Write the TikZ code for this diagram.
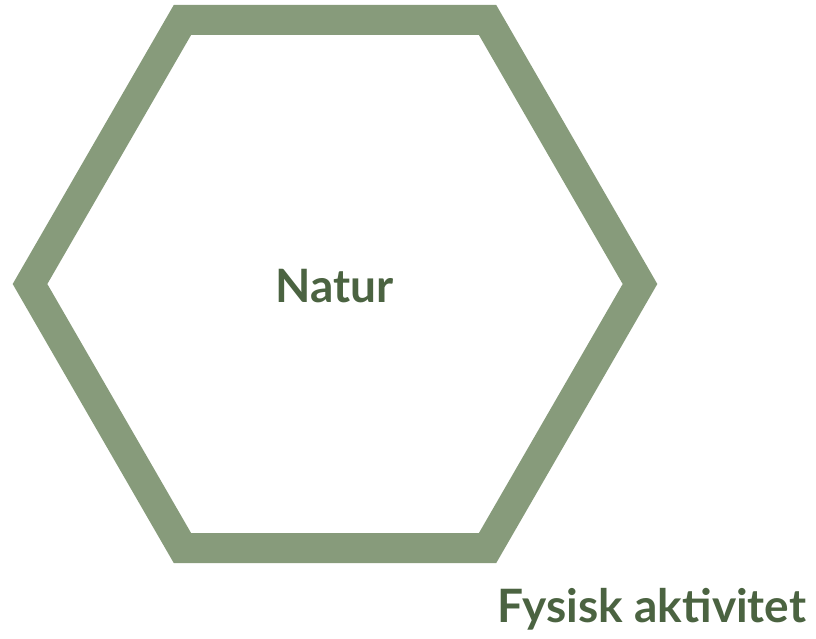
\documentclass[tikz,border=0pt]{standalone}
\usepackage{fontspec}
\setmainfont{Lato}
\usetikzlibrary{positioning,shapes.geometric}
\definecolor{hexgreen}{HTML}{879B7B}
\definecolor{textgreen}{HTML}{4B6341}

\begin{document}
\begin{tikzpicture}[x=1pt, y=-1pt,
    hexa/.style={regular polygon, regular polygon sides=6, minimum size=610pt, draw=hexgreen, line width=30pt, miter limit=4, inner sep=0pt},
    label/.style={font=\fontsize{46}{55}\selectfont\bfseries, text=textgreen, inner sep=0pt, anchor=base west}
]

    % Rahmen
    \useasboundingbox (0,0) rectangle (816,638);

    % Sechseck
    \node[hexa] (hex) at (335,284) {};

    % Beschriftungen
    \node[label] (natur) at (275,302) {Natur};
    \node[label] (fysisk) at (497,622) {Fysisk aktivitet};

\end{tikzpicture}
\end{document}
